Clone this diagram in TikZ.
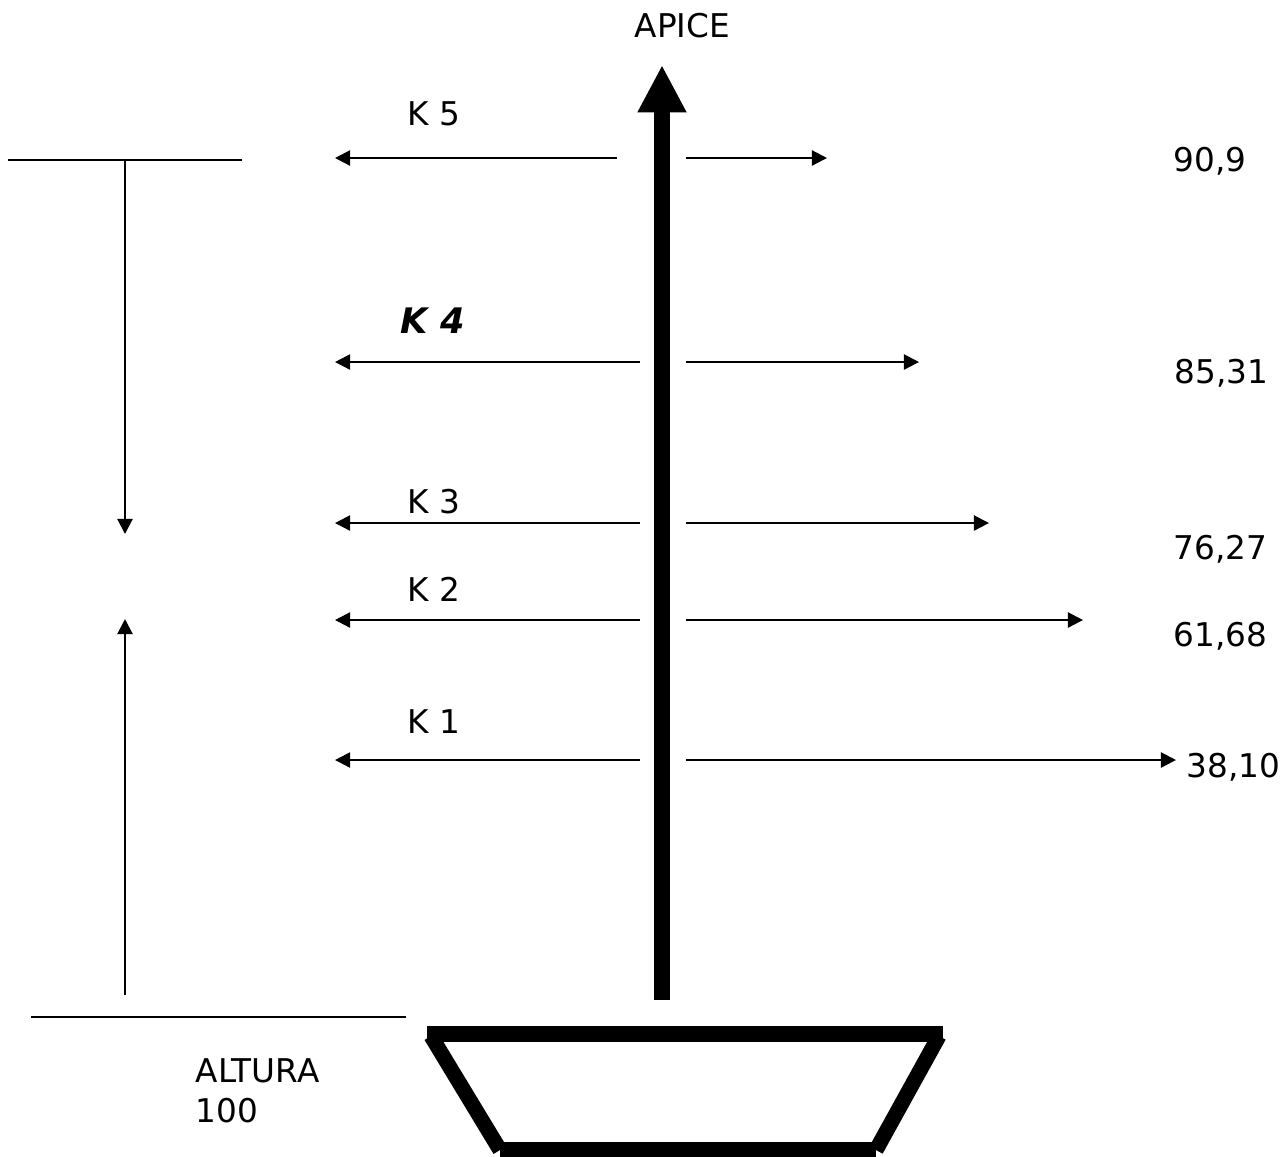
\documentclass[tikz,border=0pt]{standalone}
\usepackage{fontspec}
\setmainfont{DejaVu Sans}
\usetikzlibrary{arrows.meta}
\begin{document}
\begin{tikzpicture}[x=0.01cm,y=-0.01cm,
  lbl/.style={anchor=base west,inner sep=0pt,font=\fontsize{9.3}{11}\selectfont},
  thin arrow/.style={line width=0.6pt,-{Triangle[length=4.3pt,width=4.3pt]}},
  thinline/.style={line width=0.6pt},
  potline/.style={line width=4.3pt,line cap=butt},
  stem/.style={line width=4.3pt,-{Triangle[length=13.5pt,width=13pt]}}]
\useasboundingbox (0,0) rectangle (1282,1156);
% main stem
\coordinate (sb) at (662,1000);
\coordinate (st) at (662,65);
\draw[stem] (sb) -- (st);
\node[lbl] (apice) at (634,37) {APICE};
% pot
\coordinate (p1) at (427,1034);
\coordinate (p2) at (943,1034);
\coordinate (p3) at (500,1150);
\coordinate (p4) at (876,1150);
\coordinate (p1a) at (431,1036);
\coordinate (p2a) at (939,1036);
\draw[potline] (p1) -- (p2);
\draw[potline] (p3) -- (p4);
\draw[potline] (p1a) -- (p3);
\draw[potline] (p2a) -- (p4);
% K5
\coordinate (k5l) at (617,158); \coordinate (k5lt) at (335,158);
\coordinate (k5r) at (686,158); \coordinate (k5rt) at (827,158);
\draw[thin arrow] (k5l) -- (k5lt);
\draw[thin arrow] (k5r) -- (k5rt);
\node[lbl] (k5) at (407,125) {K 5};
\node[lbl] (v5) at (1173,171) {90,9};
% K4
\coordinate (k4l) at (640,362); \coordinate (k4lt) at (335,362);
\coordinate (k4r) at (686,362); \coordinate (k4rt) at (919,362);
\draw[thin arrow] (k4l) -- (k4lt);
\draw[thin arrow] (k4r) -- (k4rt);
\node[lbl,font=\fontsize{10}{12}\selectfont\bfseries\itshape] (k4) at (400,333) {K 4};
\node[lbl] (v4) at (1174,383) {85,31};
% K3
\coordinate (k3l) at (640,523); \coordinate (k3lt) at (335,523);
\coordinate (k3r) at (686,523); \coordinate (k3rt) at (989,523);
\draw[thin arrow] (k3l) -- (k3lt);
\draw[thin arrow] (k3r) -- (k3rt);
\node[lbl] (k3) at (407,513) {K 3};
\node[lbl] (v3) at (1173,559) {76,27};
% K2
\coordinate (k2l) at (640,620); \coordinate (k2lt) at (335,620);
\coordinate (k2r) at (686,620); \coordinate (k2rt) at (1083,620);
\draw[thin arrow] (k2l) -- (k2lt);
\draw[thin arrow] (k2r) -- (k2rt);
\node[lbl] (k2) at (407,601) {K 2};
\node[lbl] (v2) at (1173,646) {61,68};
% K1
\coordinate (k1l) at (640,760); \coordinate (k1lt) at (335,760);
\coordinate (k1r) at (686,760); \coordinate (k1rt) at (1176,760);
\draw[thin arrow] (k1l) -- (k1lt);
\draw[thin arrow] (k1r) -- (k1rt);
\node[lbl] (k1) at (407,733) {K 1};
\node[lbl] (v1) at (1186,777) {38,10};
% left height markers
\coordinate (tl) at (8,160); \coordinate (tr) at (242,160);
\draw[thinline] (tl) -- (tr);
\coordinate (da) at (125,160); \coordinate (db) at (125,534);
\draw[thin arrow] (da) -- (db);
\coordinate (ua) at (125,995); \coordinate (ub) at (125,619);
\draw[thin arrow] (ua) -- (ub);
\coordinate (bl) at (31,1017); \coordinate (br) at (406,1017);
\draw[thinline] (bl) -- (br);
\node[lbl] (alt) at (195,1082) {ALTURA};
\node[lbl] (cien) at (195,1122) {100};
\end{tikzpicture}
\end{document}
